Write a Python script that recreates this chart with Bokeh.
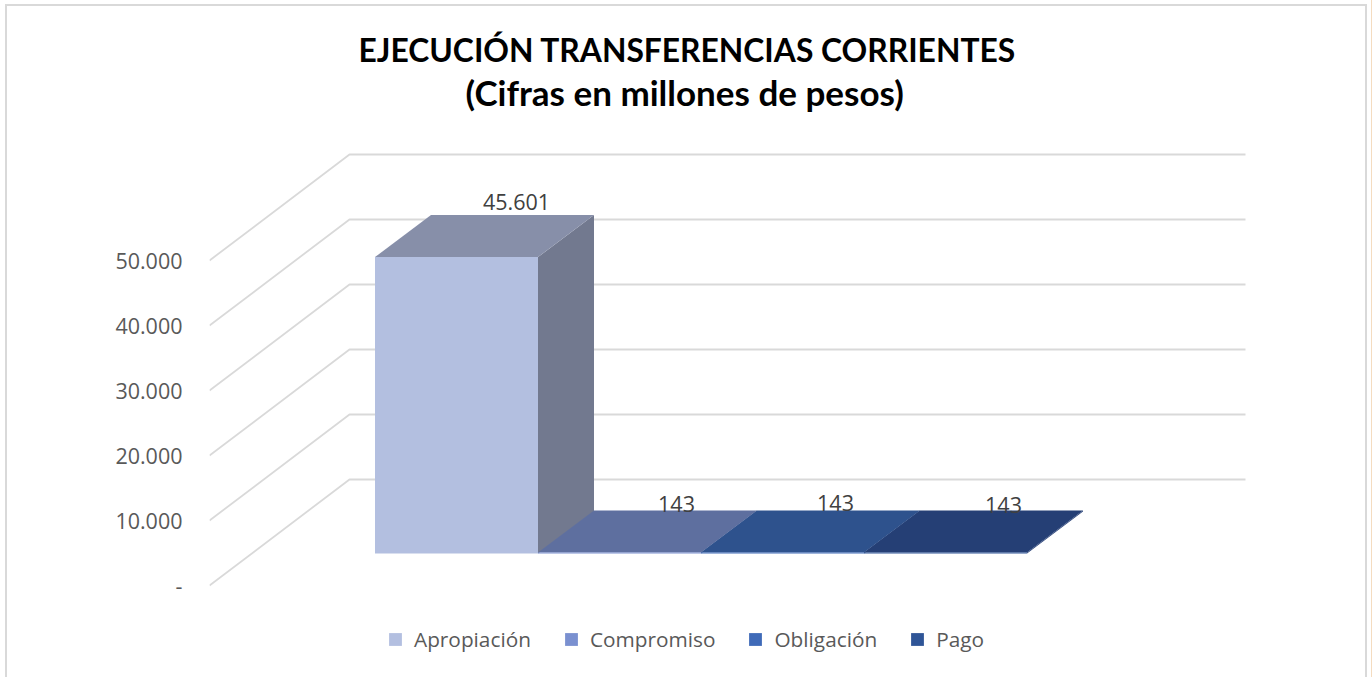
from bokeh.embed import file_html
from bokeh.resources import INLINE
from bokeh.plotting import figure
from bokeh.models import (FixedTicker, Legend, LegendItem, LinearAxis,
                          Range1d, Title)
from bokeh.core.properties import value

categories = ["Apropiación", "Compromiso", "Obligación", "Pago"]
values = [45601, 143, 143, 143]
value_labels = ["45.601", "143", "143", "143"]
ticks = [0, 10000, 20000, 30000, 40000, 50000]
tick_labels = ["-", "10.000", "20.000", "30.000", "40.000", "50.000"]

front_colors = ["#B3BFE0", "#7A90D0", "#3F6AB8", "#2F5597"]
top_colors = ["#878FA9", "#5E6F9F", "#2E528D", "#253F75"]
side_colors = ["#72798F", "#5E6F9F", "#2E528D", "#253F75"]
label_dx = [60, 57, 53, 58]
label_dy = [-13, -7, -8, -6]

W, H = 1372, 677
FL, FT = 209, 125
CAT_PX = 163.0
VAL_PX = 0.0065          # pixels per unit of value
FLOOR_PX = 585.0
X0_PX = 374.5            # category 0 left edge on the bar's front plane
WALL_DX = 140.0 / CAT_PX
WALL_DY = 106.0 / VAL_PX
D1, D2 = 32 / 106, 74 / 106   # bar depth span as a fraction of the wall depth
WALL_END = (1245 - X0_PX) / CAT_PX
FRONT_WALL_X = (FL - X0_PX) / CAT_PX

p = figure(width=W, height=H, output_backend="svg", toolbar_location=None,
           x_axis_location=None, y_axis_location=None,
           min_border_left=FL, min_border_right=0, min_border_top=FT, min_border_bottom=0,
           outline_line_color=None, background_fill_alpha=0, border_fill_alpha=0,
           x_range=Range1d(FRONT_WALL_X, (W - X0_PX) / CAT_PX),
           y_range=Range1d((FLOOR_PX - H) / VAL_PX, (FLOOR_PX - FT) / VAL_PX))
p.grid.visible = False

# chart frame and page rule sit behind the transparent canvas
g = "linear-gradient(#D9D9D9,#D9D9D9)"
p.styles = {
    "background-color": "white",
    "background-image": f"{g},{g},{g},linear-gradient(#F4DCC0,#F4DCC0)",
    "background-size": "1362px 2px,2px 673px,2px 673px,1px 4px",
    "background-position": "5px 4px,5px 4px,1365px 4px,1371px 3px",
    "background-repeat": "no-repeat,no-repeat,no-repeat,repeat-y",
}

axis = LinearAxis(ticker=FixedTicker(ticks=ticks),
                  major_label_overrides={t: s for t, s in zip(ticks, tick_labels)},
                  axis_line_color=None, major_tick_line_color=None, minor_tick_line_color=None,
                  major_label_text_font="Open Sans", major_label_text_font_size="21.5px",
                  major_label_text_color="#595959", major_label_standoff=21)
p.add_layout(axis, "left")

title_style = dict(align="left", text_font="Lato", text_font_style="bold", text_color="#000000")
p.title = Title(text="EJECUCIÓN TRANSFERENCIAS CORRIENTES", offset=358 - FL, standoff=-27,
                text_font_size="31.8px", **title_style)
p.add_layout(Title(text="(Cifras en millones de pesos)", offset=465 - FL, standoff=26,
                   text_font_size="35px", **title_style), "above")

# walls / gridlines
xs, ys = [], []
for t in ticks:
    xs.append([FRONT_WALL_X, FRONT_WALL_X + WALL_DX, WALL_END])
    ys.append([t, t + WALL_DY, t + WALL_DY])
p.multi_line(xs, ys, line_color="#D9D9D9", line_width=1.8)

dx = 56.0 / CAT_PX
y1, y2 = D1 * WALL_DY, D2 * WALL_DY
items = []
for i, (c, v) in enumerate(zip(categories, values)):
    top = v + y1
    p.patch([i + 1, i + 1 + dx, i + 1 + dx, i + 1], [y1, y2, v + y2, top],
            fill_color=side_colors[i], line_color=None)
    p.patch([i, i + dx, i + 1 + dx, i + 1], [top, v + y2, v + y2, top],
            fill_color=top_colors[i], line_color=None)
    r = p.quad(left=[i], right=[i + 1], bottom=[y1], top=[top],
               fill_color=front_colors[i], line_color=None)
    items.append(LegendItem(label=value(c), renderers=[r]))

for i, (v, s) in enumerate(zip(values, value_labels)):
    p.text([i + 0.5], [v + y2], text=[s], text_font=value("Open Sans"), text_font_size="21.5px",
           text_color="#404040", text_align="center", text_baseline="middle",
           x_offset=label_dx[i], y_offset=label_dy[i])

legend = Legend(items=items, orientation="horizontal", location=(387 - FL, 677 - 653),
                border_line_color=None, background_fill_alpha=0, padding=0, margin=0,
                glyph_width=16, glyph_height=16, label_standoff=11, spacing=32,
                label_text_font="Open Sans", label_text_font_size="20.8px",
                label_text_color="#595959", label_height=20)
p.add_layout(legend, "center")

open("out.html", "w").write(file_html(p, INLINE))
